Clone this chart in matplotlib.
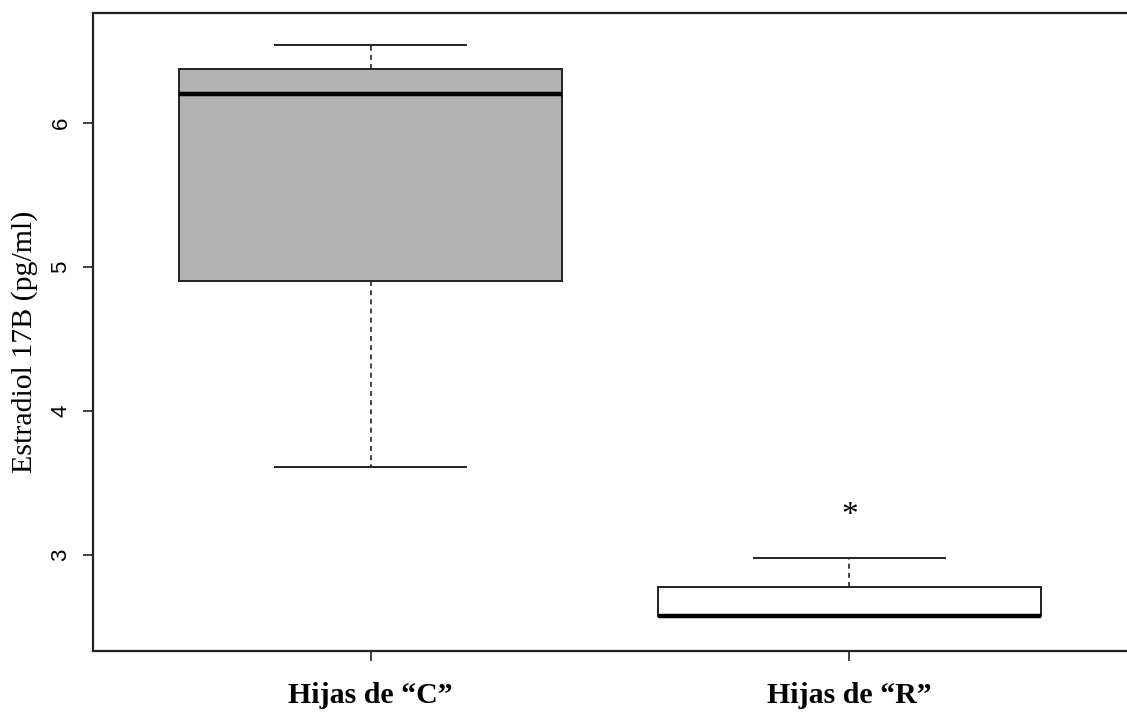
import matplotlib
matplotlib.use('Agg')
import matplotlib.pyplot as plt

# box statistics for the two groups (pg/ml)
groups = ['Hijas de \u201cC\u201d', 'Hijas de \u201cR\u201d']
whislo = [3.61, 2.572]
q1 = [4.904, 2.572]
med = [6.204, 2.572]
q3 = [6.373, 2.773]
whishi = [6.544, 2.977]
fills = ['#b3b3b3', 'white']
star_y = 3.306   # significance mark above group R

stats = []
for i in range(len(groups)):
    stats.append(dict(label=groups[i], whislo=whislo[i], q1=q1[i], med=med[i],
                      q3=q3[i], whishi=whishi[i], fliers=[]))

fig = plt.figure(figsize=(11.27, 7.13), dpi=100)
ax = fig.add_axes([93/1127, 62/713, 1034/1127, 638/713])

bp = ax.bxp(stats, positions=[1, 2], widths=0.8, patch_artist=True,
            showfliers=False,
            boxprops=dict(edgecolor='#222222', linewidth=1.4),
            medianprops=dict(color='black', linewidth=3.2, solid_capstyle='butt'),
            whiskerprops=dict(color='#222222', linewidth=1.2, linestyle=(0, (3, 2.5))),
            capprops=dict(color='#222222', linewidth=1.4),
            capwidths=0.4)
for patch, c in zip(bp['boxes'], fills):
    patch.set_facecolor(c)

# asterisk glyph sits high in its box, nudge it down so its centre is on star_y
ax.annotate('*', (2, star_y), xytext=(0, -4), textcoords='offset points',
            ha='center', va='center', fontsize=24, family='Liberation Serif')

ax.set_xlim(0.42, 2.58)
ax.set_ylim(2.331, 6.764)
ax.set_yticks([3, 4, 5, 6])
ax.set_yticklabels(['3', '4', '5', '6'], rotation=90, va='center',
                   family='Liberation Sans', fontsize=16)
ax.set_xticks([1, 2])
ax.set_xticklabels(groups, family='Liberation Serif', fontweight='bold',
                   fontsize=21.5)
ax.tick_params(axis='both', length=7.5, width=1.2, color='#222222')
ax.tick_params(axis='x', pad=15)
ax.tick_params(axis='y', pad=8)
ax.set_ylabel('Estradiol 17B (pg/ml)', family='Liberation Serif', fontsize=21.5,
              labelpad=9)
ax.yaxis.label.set_y(0.484)

for s in ['left', 'top', 'bottom']:
    ax.spines[s].set_linewidth(1.6)
    ax.spines[s].set_color('#222222')
ax.spines['right'].set_visible(False)

fig.savefig('out.png', dpi=100)
